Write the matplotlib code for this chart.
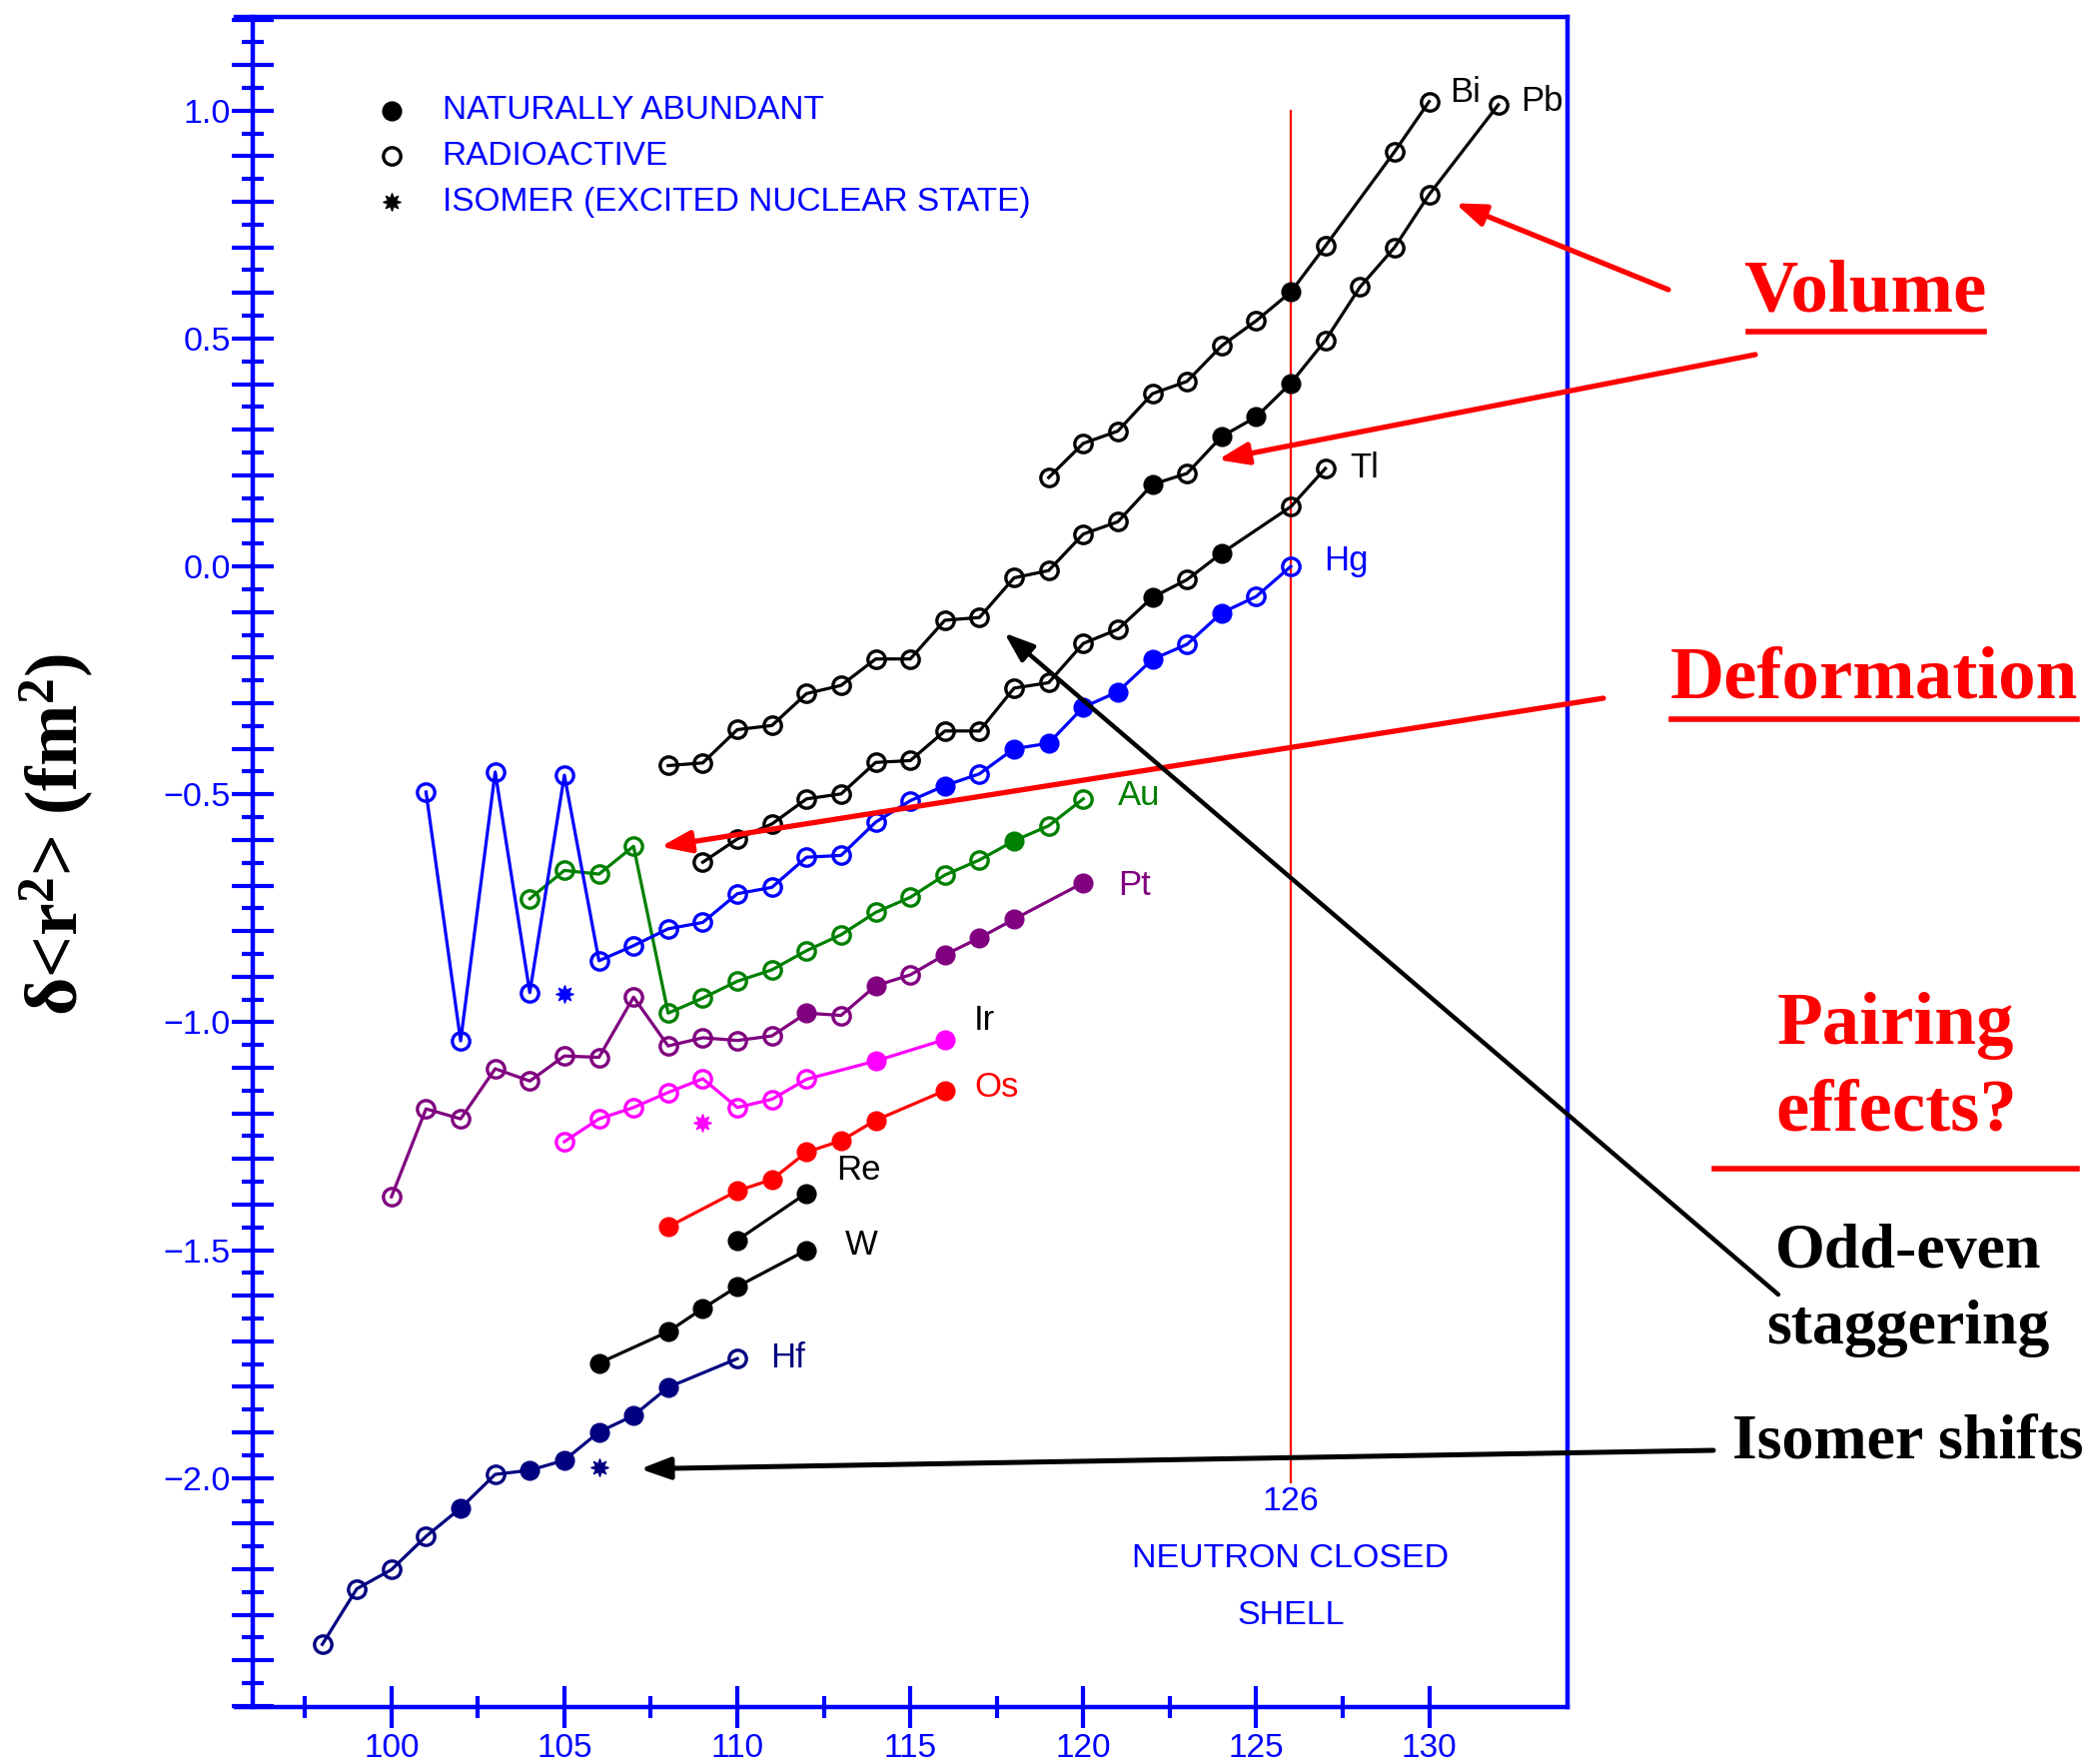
import numpy as np
import matplotlib.pyplot as plt
from matplotlib.lines import Line2D
from matplotlib.ticker import MultipleLocator, FixedLocator, FuncFormatter

plt.rcParams['font.family'] = ['Liberation Sans', 'DejaVu Sans']
plt.rcParams['mathtext.default'] = 'regular'

W, H = 2094, 1766

# neutron number N, delta<r^2> (fm^2); *_nat = naturally abundant isotopes (filled)
hf_n = [98, 99, 100, 101, 102, 103, 104, 105, 106, 107, 108, 110]
hf_dr = [-2.365, -2.243, -2.201, -2.128, -2.066, -1.992, -1.983, -1.961, -1.899, -1.863, -1.801, -1.738]
hf_nat = [102, 104, 105, 106, 107, 108]

w_n = [106, 108, 109, 110, 112]
w_dr = [-1.748, -1.679, -1.628, -1.580, -1.500]
w_nat = [106, 108, 109, 110, 112]

re_n = [110, 112]
re_dr = [-1.478, -1.375]
re_nat = [110, 112]

os_n = [108, 110, 111, 112, 113, 114, 116]
os_dr = [-1.449, -1.370, -1.345, -1.285, -1.260, -1.215, -1.150]
os_nat = [108, 110, 111, 112, 113, 114, 116]

ir_n = [105, 106, 107, 108, 109, 110, 111, 112, 114, 116]
ir_dr = [-1.262, -1.212, -1.187, -1.154, -1.124, -1.187, -1.169, -1.125, -1.085, -1.038]
ir_nat = [114, 116]

pt_n = [100, 101, 102, 103, 104, 105, 106, 107, 108, 109, 110, 111, 112, 113, 114, 115, 116, 117, 118, 120]
pt_dr = [-1.383, -1.190, -1.212, -1.102, -1.129, -1.074, -1.077, -0.945, -1.052, -1.034,
         -1.040, -1.030, -0.980, -0.985, -0.920, -0.896, -0.852, -0.815, -0.774, -0.694]
pt_nat = [112, 114, 116, 117, 118, 120]

au_n = [104, 105, 106, 107, 108, 109, 110, 111, 112, 113, 114, 115, 116, 117, 118, 119, 120]
au_dr = [-0.729, -0.667, -0.675, -0.614, -0.980, -0.947, -0.910, -0.885, -0.843, -0.808,
         -0.759, -0.726, -0.677, -0.644, -0.602, -0.569, -0.510]
au_nat = [118]

hg_n = [101, 102, 103, 104, 105, 106, 107, 108, 109, 110, 111, 112, 113,
        114, 115, 116, 117, 118, 119, 120, 121, 122, 123, 124, 125, 126]
hg_dr = [-0.495, -1.041, -0.451, -0.935, -0.458, -0.865, -0.832, -0.795, -0.781, -0.718, -0.704, -0.638, -0.634,
         -0.561, -0.514, -0.481, -0.455, -0.400, -0.388, -0.309, -0.275, -0.204, -0.171, -0.102, -0.066, 0.0]
hg_nat = [116, 118, 119, 120, 121, 122, 124]

tl_n = [109, 110, 111, 112, 113, 114, 115, 116, 117, 118, 119, 120, 121, 122, 123, 124, 126, 127]
tl_dr = [-0.649, -0.598, -0.565, -0.510, -0.499, -0.430, -0.426, -0.361, -0.361, -0.267,
         -0.255, -0.169, -0.138, -0.068, -0.029, 0.029, 0.131, 0.215]
tl_nat = [122, 124]

pb_n = [108, 109, 110, 111, 112, 113, 114, 115, 116, 117, 118, 119, 120, 121,
        122, 123, 124, 125, 126, 127, 128, 129, 130, 132]
pb_dr = [-0.437, -0.431, -0.358, -0.349, -0.279, -0.261, -0.203, -0.203, -0.118, -0.112, -0.025, -0.009, 0.071, 0.098,
         0.180, 0.204, 0.285, 0.328, 0.402, 0.496, 0.613, 0.700, 0.816, 1.013]
pb_nat = [122, 124, 125, 126]

bi_n = [119, 120, 121, 122, 123, 124, 125, 126, 127, 129, 130]
bi_dr = [0.195, 0.270, 0.297, 0.379, 0.406, 0.484, 0.539, 0.602, 0.703, 0.910, 1.020]
bi_nat = [126]

# isomers (excited nuclear states)
iso_el = ['Hf', 'Ir', 'Hg']
iso_n = [106, 109, 105]
iso_dr = [-1.977, -1.220, -0.937]

NAVY, PURPLE, GREEN, MAGENTA = '#000080', '#800080', '#008000', '#ff00ff'

series = [
    ('Hf', hf_n, hf_dr, hf_nat, NAVY, NAVY, (110.95, -1.737)),
    ('W', w_n, w_dr, w_nat, 'black', 'black', (113.1, -1.49)),
    ('Re', re_n, re_dr, re_nat, 'black', 'black', (112.85, -1.324)),
    ('Os', os_n, os_dr, os_nat, 'red', 'red', (116.85, -1.142)),
    ('Ir', ir_n, ir_dr, ir_nat, MAGENTA, 'black', (116.85, -0.996)),
    ('Pt', pt_n, pt_dr, pt_nat, PURPLE, PURPLE, (121.0, -0.70)),
    ('Au', au_n, au_dr, au_nat, GREEN, GREEN, (121.0, -0.503)),
    ('Hg', hg_n, hg_dr, hg_nat, 'blue', 'blue', (126.95, 0.012)),
    ('Tl', tl_n, tl_dr, tl_nat, 'black', 'black', (127.7, 0.215)),
    ('Pb', pb_n, pb_dr, pb_nat, 'black', 'black', (132.65, 1.02)),
    ('Bi', bi_n, bi_dr, bi_nat, 'black', 'black', (130.6, 1.04)),
]
colors = {s[0]: s[4] for s in series}

fig = plt.figure(figsize=(W / 100, H / 100), dpi=100)
ax = fig.add_axes([236 / W, 1 - 1709 / H, (1569 - 236) / W, (1709 - 17) / H])

MS = 12.5
for name, n, dr, nat, col, lcol, lpos in series:
    n = np.array(n)
    dr = np.array(dr)
    filled = np.isin(n, nat)
    ax.plot(n, dr, '-', color=col, lw=2.3, zorder=2)
    ax.plot(n[~filled], dr[~filled], 'o', ms=MS, mfc='none', mec=col, mew=2.4, zorder=3)
    ax.plot(n[filled], dr[filled], 'o', ms=MS + 1, mfc=col, mec=col, mew=1.0, zorder=3)
    ax.text(lpos[0], lpos[1], name, color=lcol, fontsize=25, ha='left', va='center')

for el, n, dr in zip(iso_el, iso_n, iso_dr):
    ax.plot(n, dr, marker=(8, 1, 0), ms=13, color=colors[el], mew=0.8, ls='none', zorder=3)

# neutron closed shell
ax.plot([126, 126], [1.0, -2.01], color='red', lw=1.6, zorder=1)
ax.text(126, -2.053, '126', color='blue', fontsize=24.5, ha='center', va='center')
ax.text(126, -2.178, 'NEUTRON CLOSED', color='blue', fontsize=24.5, ha='center', va='center')
ax.text(126, -2.302, 'SHELL', color='blue', fontsize=24.5, ha='center', va='center')

# legend
ax.plot(100, 1.0, 'o', ms=MS + 1, color='black')
ax.plot(100, 0.9, 'o', ms=MS, mfc='none', mec='black', mew=2.4)
ax.plot(100, 0.8, marker=(8, 1, 0), ms=13, color='black', mew=0.8, ls='none')
for yy, txt in zip([1.0, 0.9, 0.8], ['NATURALLY ABUNDANT', 'RADIOACTIVE', 'ISOMER (EXCITED NUCLEAR STATE)']):
    ax.text(101.47, yy, txt, color='blue', fontsize=24, ha='left', va='center')

# axes styling
ax.set_xlim(95.5, 134)
ax.set_ylim(-2.5025, 1.2055)
for sp in ax.spines.values():
    sp.set_color('blue')
    sp.set_linewidth(3.2)
ax.spines['left'].set_position(('data', 96))

ax.xaxis.set_major_locator(MultipleLocator(5))
ax.xaxis.set_minor_locator(FixedLocator(np.arange(97.5, 130, 5)))
ax.yaxis.set_major_locator(MultipleLocator(0.1))
ax.yaxis.set_minor_locator(MultipleLocator(0.05))


def ylab(v, pos):
    if v < -2.25 or abs(v * 2 - round(v * 2)) > 1e-6:
        return ''
    if abs(v) < 1e-9:
        return '0.0'
    return f"{v:.1f}".replace('-', '\u2212')


ax.yaxis.set_major_formatter(FuncFormatter(ylab))
ax.tick_params(which='major', direction='inout', length=30, width=3, colors='blue', labelsize=24.5)
ax.tick_params(which='minor', direction='inout', length=16, width=3, colors='blue')
ax.tick_params(axis='y', which='major', pad=1)
ax.tick_params(axis='x', which='major', pad=4, labelsize=24)
ax.tick_params(top=False, right=False, which='both')

fig.text(57 / W, 1 - 835 / H, 'δ<r$^2$> (fm$^2$)', rotation=90, ha='center', va='center',
         fontsize=53, fontweight='bold', family='Liberation Serif', color='black')


def fpx(x, y):
    return x / W, 1 - y / H


serif = dict(family='Liberation Serif', fontweight='bold', ha='center', va='baseline')
fig.text(*fpx(1867, 311), 'Volume', color='red', fontsize=54, **serif)
fig.text(*fpx(1876, 698), 'Deformation', color='red', fontsize=54, **serif)
fig.text(*fpx(1898, 1045), 'Pairing', color='red', fontsize=54, **serif)
fig.text(*fpx(1898, 1131), 'effects?', color='red', fontsize=54, **serif)
fig.text(*fpx(1910, 1269), 'Odd-even', color='black', fontsize=46, **serif)
fig.text(*fpx(1910, 1345), 'staggering', color='black', fontsize=46, **serif)
fig.text(*fpx(1910, 1460), 'Isomer shifts', color='black', fontsize=46, **serif)

for x0, x1, y in [(1750, 1986, 332), (1673, 2079, 720), (1716, 2079, 1170)]:
    fig.add_artist(Line2D([x0 / W, x1 / W], [1 - y / H, 1 - y / H], transform=fig.transFigure,
                          color='red', lw=4))

arrows = [
    ((130.75, 0.797), (1670, 290), 'red', 3.8),
    ((123.89, 0.234), (1757, 355), 'red', 3.8),
    ((107.78, -0.615), (1605, 699), 'red', 3.8),
    ((117.72, -0.146), (1780, 1296), 'black', 3.2),
    ((107.19, -1.980), (1715, 1452), 'black', 3.6),
]
for head, tail, col, lw in arrows:
    ax.annotate('', xy=head, xycoords='data', xytext=fpx(*tail), textcoords='figure fraction',
                arrowprops=dict(arrowstyle='-|>,head_length=0.6,head_width=0.22', color=col, lw=lw,
                                mutation_scale=30, shrinkA=0, shrinkB=0),
                annotation_clip=False, zorder=5)

fig.savefig('out.png', dpi=100, facecolor='white')
